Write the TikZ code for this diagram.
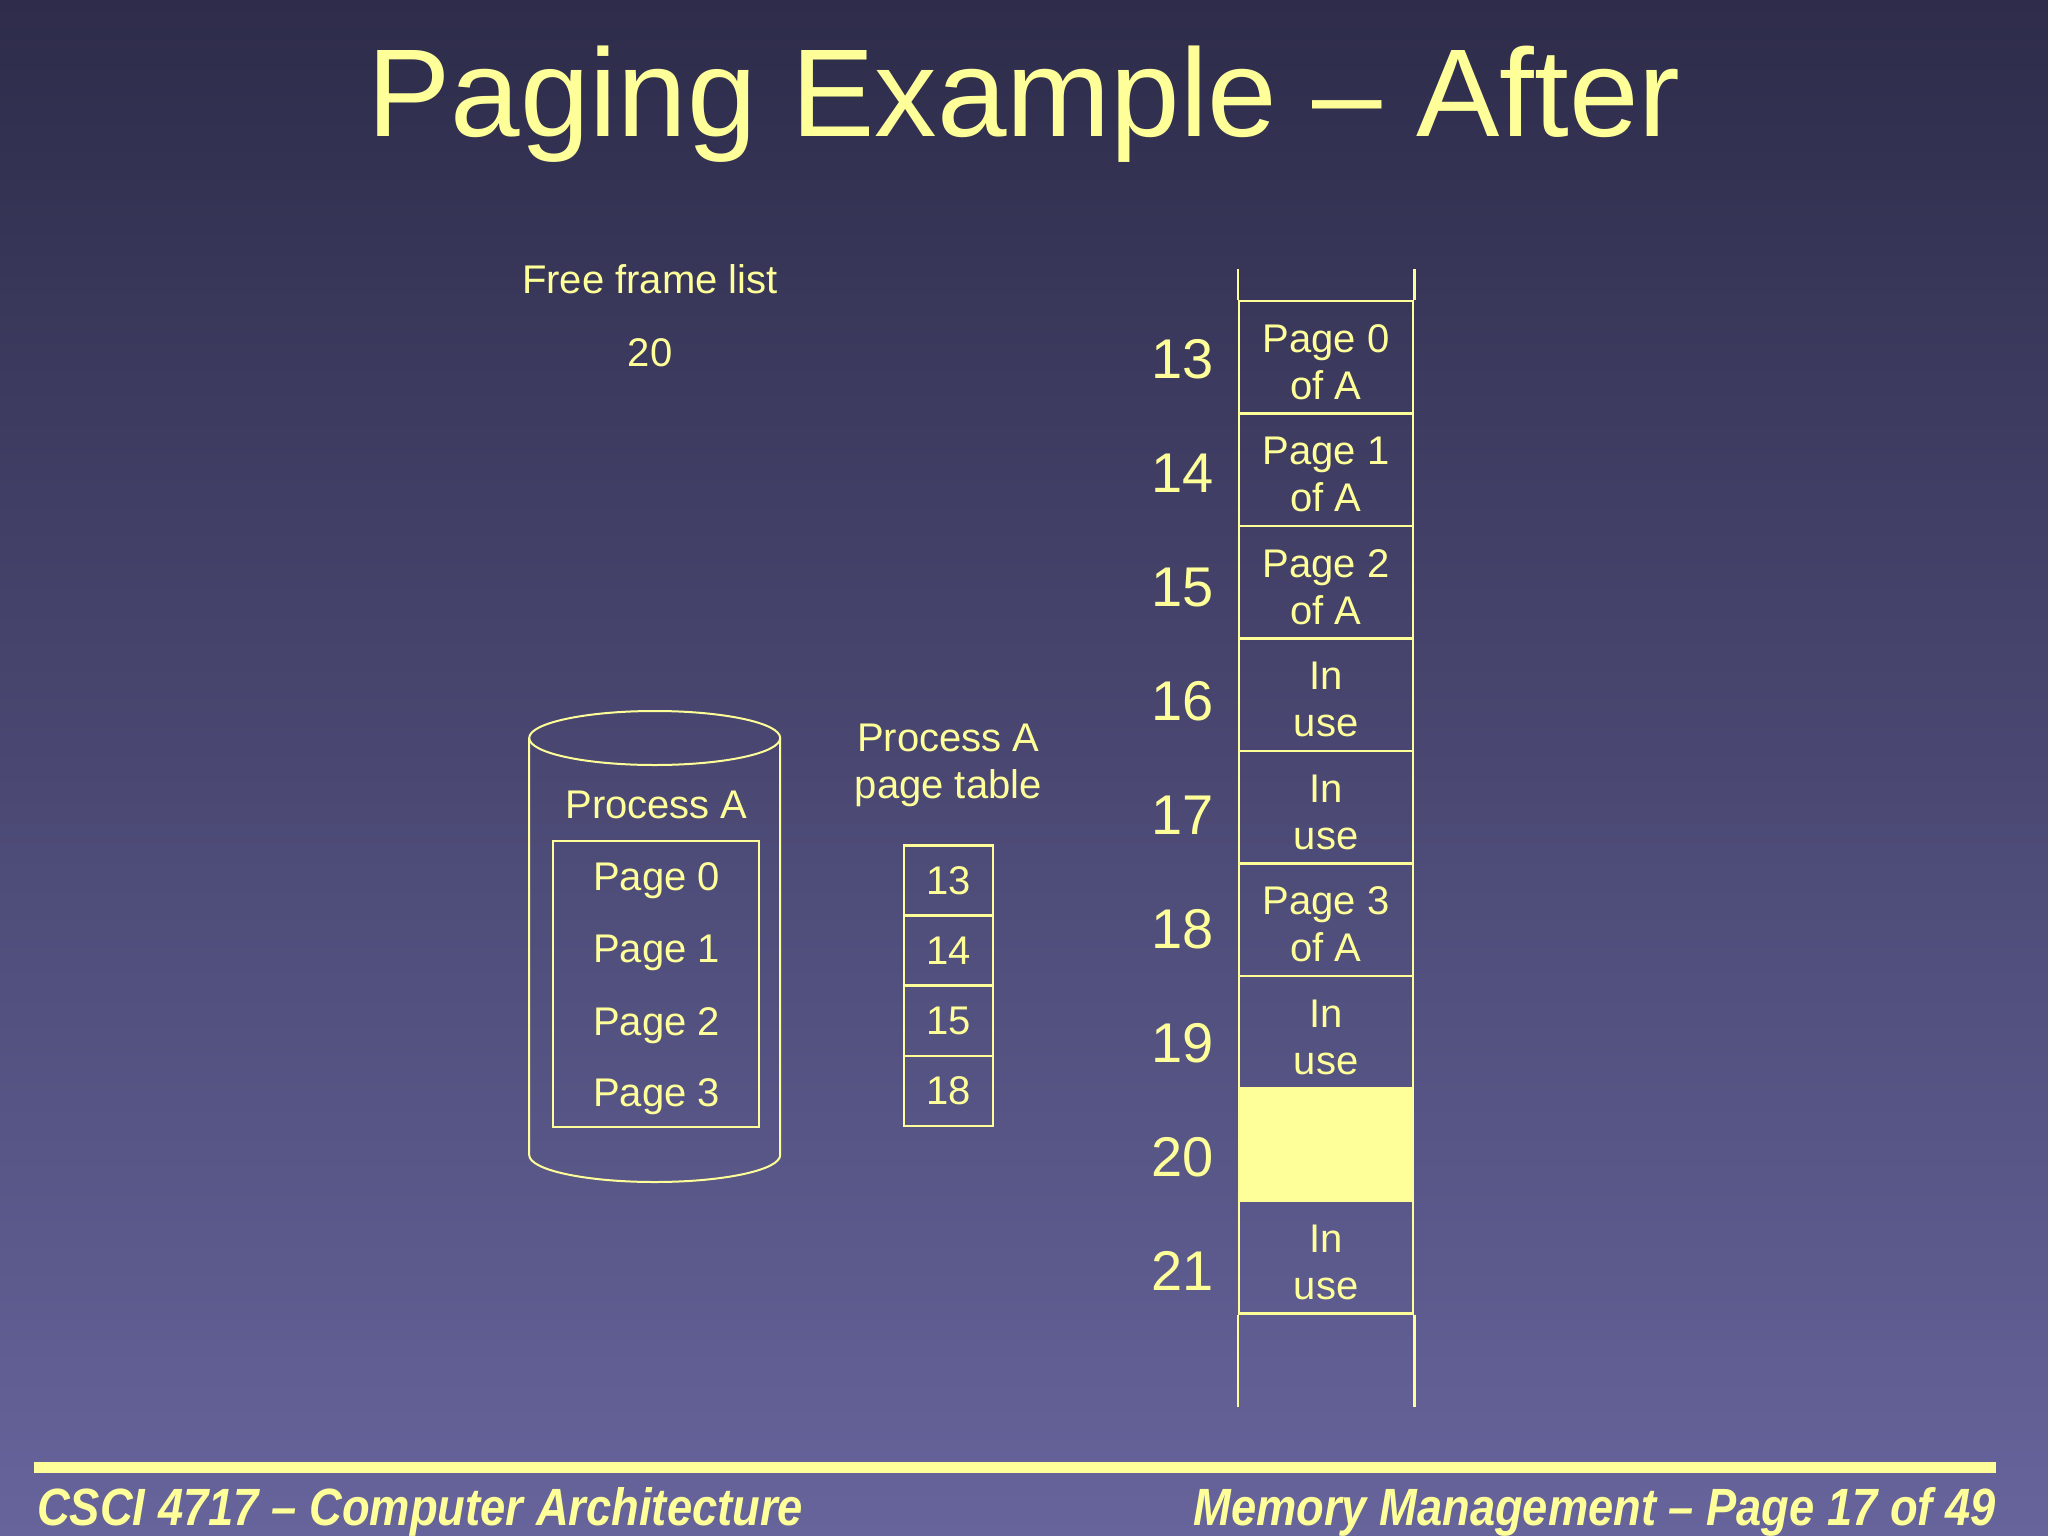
\documentclass[tikz,border=0pt]{standalone}
\usepackage{fontspec}
\usepackage{graphicx}
\setmainfont{Liberation Sans}
\definecolor{ylw}{RGB}{255,255,153}
\definecolor{bgtop}{RGB}{46,44,74}
\definecolor{bgbot}{RGB}{102,100,155}
\begin{document}
\begin{tikzpicture}[x=1pt,y=-1pt,
  txt/.style={text=ylw, inner sep=0pt, font=\fontsize{40}{47}\selectfont},
  num/.style={text=ylw, inner sep=0pt, font=\fontsize{56}{60}\selectfont},
  cell/.style={draw=ylw, line width=2.5pt, minimum width=174pt, minimum height=112.5pt,
    inner sep=0pt},
  celltxt/.style={txt, align=center, yshift=-5pt},
  ptcell/.style={draw=ylw, line width=2.5pt, minimum width=89pt, minimum height=70pt,
    inner sep=0pt, text=ylw, font=\fontsize{40}{47}\selectfont},
  ln/.style={draw=ylw, line width=2.5pt},
  cyl/.style={draw=ylw, line width=2pt},
  foot/.style={text=ylw, inner sep=0pt}]
\useasboundingbox (0,0) rectangle (2048,1536);
\shade[top color=bgtop, bottom color=bgbot] (0,0) rectangle (2048,1536);

% title
\node[text=ylw, inner sep=0pt, anchor=base, font=\fontsize{125}{130}\selectfont] (title) at (1024,136.7) {Paging Example – After};

% free frame list
\node[txt, anchor=base] (ffl) at (650,293.3) {Free frame list};
\node[txt, anchor=base] (ffl20) at (650,366) {20};

% cylinder (process A on disk)
\draw[cyl] (654.7,738) ellipse [x radius=125.5pt, y radius=27pt];
\draw[cyl] (529.2,738) -- (529.2,1155) arc[start angle=180, end angle=360, x radius=125.5pt, y radius=27pt] -- (780.2,738);
\node[txt, anchor=base] (procA) at (656.5,818.3) {Process A};
\node[draw=ylw, line width=2pt, minimum width=206pt, minimum height=286pt, inner sep=0pt] (pgbox) at (656.3,983.7) {};
\node[txt, anchor=base] (pg0) at (656.5,890) {Page 0};
\node[txt, anchor=base] (pg1) at (656.5,962.7) {Page 1};
\node[txt, anchor=base] (pg2) at (656.5,1035) {Page 2};
\node[txt, anchor=base] (pg3) at (656.5,1106.7) {Page 3};

% page table
\node[txt, align=center] (ptlabel) at (948.3,765) {Process A\\page table};
\node[ptcell] (pt0) at (948.7,880.5) {13};
\node[ptcell] (pt1) at (948.7,950.5) {14};
\node[ptcell] (pt2) at (948.7,1020.8) {15};
\node[ptcell] (pt3) at (948.7,1091) {18};

% memory frames
\node[cell] (m13) at (1326,357) {};
\node[cell] (m14) at (1326,469.5) {};
\node[cell] (m15) at (1326,582) {};
\node[cell] (m16) at (1326,694.5) {};
\node[cell] (m17) at (1326,807) {};
\node[cell] (m18) at (1326,919.5) {};
\node[cell] (m19) at (1326,1032) {};
\node[cell, fill=ylw] (m20) at (1326,1144.5) {};
\node[cell] (m21) at (1326,1257) {};
\node[celltxt] (t13) at (m13) {Page 0\\of A};
\node[celltxt] (t14) at (m14) {Page 1\\of A};
\node[celltxt] (t15) at (m15) {Page 2\\of A};
\node[celltxt] (t16) at (m16) {In\\use};
\node[celltxt] (t17) at (m17) {In\\use};
\node[celltxt] (t18) at (m18) {Page 3\\of A};
\node[celltxt] (t19) at (m19) {In\\use};
\node[celltxt] (t21) at (m21) {In\\use};
\draw[ln] (m13.north west) -- ++(0,-31);
\draw[ln] (m13.north east) -- ++(0,-31);
\draw[ln] (m21.south west) -- ++(0,92);
\draw[ln] (m21.south east) -- ++(0,92);

% frame numbers
\node[num, anchor=base east] (n13) at (1214,378) {13};
\node[num, anchor=base east] (n14) at (1214,492) {14};
\node[num, anchor=base east] (n15) at (1214,606) {15};
\node[num, anchor=base east] (n16) at (1214,720) {16};
\node[num, anchor=base east] (n17) at (1214,834) {17};
\node[num, anchor=base east] (n18) at (1214,948) {18};
\node[num, anchor=base east] (n19) at (1214,1062) {19};
\node[num, anchor=base east] (n20) at (1214,1176) {20};
\node[num, anchor=base east] (n21) at (1214,1290) {21};

% footer
\fill[ylw] (34,1462) rectangle (1996,1473);
\node[foot, anchor=base west] (footl) at (37,1525.5) {\resizebox{766pt}{38pt}{\bfseries\itshape CSCI 4717 – Computer Architecture}};
\node[foot, anchor=base east] (footr) at (1996,1525.5) {\resizebox{802pt}{38pt}{\bfseries\itshape Memory Management – Page 17 of 49}};
\end{tikzpicture}
\end{document}
